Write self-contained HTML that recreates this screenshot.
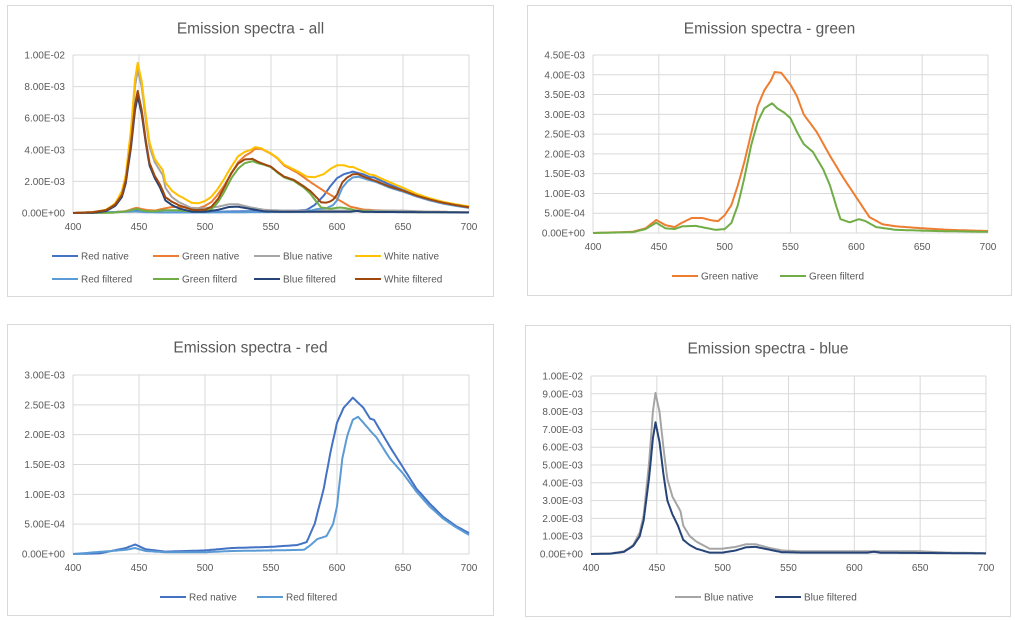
<!DOCTYPE html>
<html><head><meta charset="utf-8"><style>
html,body{margin:0;padding:0;background:#fff;}
svg{display:block;font-family:"Liberation Sans",sans-serif;}
</style></head><body>
<svg id="s" width="1015" height="620" xmlns="http://www.w3.org/2000/svg"></svg>
<script>
const C={rn:"#4472C4",gn:"#ED7D31",bn:"#A5A5A5",wn:"#FFC000",rf:"#5B9BD5",gf:"#70AD47",bf:"#264478",wf:"#9E480E"};
const D={
rn:[[400,0],[420,0.01],[440,0.1],[447,0.16],[455,0.08],[470,0.04],[500,0.06],[520,0.1],[550,0.12],[570,0.15],[577,0.2],[583,0.5],[590,1.1],[595,1.7],[600,2.2],[605,2.45],[612,2.62],[620,2.45],[625,2.27],[628,2.25],[640,1.8],[650,1.45],[660,1.1],[670,0.85],[680,0.63],[690,0.47],[700,0.35]],
rf:[[400,0],[440,0.07],[447,0.1],[455,0.05],[470,0.03],[500,0.03],[520,0.05],[550,0.06],[575,0.07],[580,0.15],[585,0.25],[592,0.3],[597,0.5],[600,0.8],[604,1.6],[608,2.0],[612,2.25],[616,2.3],[620,2.2],[625,2.07],[630,1.95],[640,1.6],[650,1.35],[660,1.05],[670,0.8],[680,0.6],[690,0.45],[700,0.32]],
gn:[[400,0],[430,0.03],[440,0.12],[448,0.33],[455,0.2],[462,0.15],[467,0.25],[475,0.38],[483,0.38],[490,0.32],[495,0.3],[500,0.45],[505,0.7],[510,1.2],[515,1.8],[520,2.5],[525,3.2],[530,3.6],[535,3.85],[538,4.07],[543,4.05],[550,3.75],[555,3.45],[560,3.0],[570,2.55],[580,1.95],[590,1.4],[600,0.9],[610,0.4],[620,0.22],[630,0.17],[650,0.12],[670,0.08],[700,0.05]],
gf:[[400,0],[430,0.02],[440,0.1],[448,0.26],[455,0.12],[462,0.1],[468,0.17],[478,0.18],[487,0.12],[493,0.08],[500,0.1],[505,0.25],[510,0.7],[515,1.4],[520,2.2],[525,2.8],[530,3.15],[536,3.28],[540,3.15],[545,3.05],[550,2.9],[555,2.55],[560,2.25],[567,2.05],[575,1.6],[580,1.2],[585,0.65],[588,0.35],[595,0.27],[602,0.35],[607,0.3],[615,0.15],[630,0.08],[660,0.05],[700,0.03]],
bn:[[400,0],[415,0.03],[425,0.15],[432,0.5],[437,1.2],[440,2.2],[444,5.0],[447,8.0],[449,9.05],[452,8.0],[455,6.0],[458,4.2],[462,3.2],[465,2.8],[468,2.4],[470,1.6],[475,1.0],[480,0.7],[490,0.3],[500,0.3],[510,0.4],[518,0.55],[525,0.55],[535,0.35],[545,0.2],[560,0.15],[650,0.15],[670,0.08],[700,0.05]],
bf:[[400,0],[415,0.02],[425,0.12],[432,0.45],[437,1.0],[440,1.9],[444,4.2],[447,6.5],[449,7.4],[452,6.3],[455,4.5],[458,3.0],[462,2.2],[466,1.6],[470,0.8],[475,0.5],[480,0.3],[490,0.08],[500,0.08],[510,0.2],[518,0.38],[525,0.4],[535,0.25],[545,0.1],[560,0.08],[610,0.08],[615,0.13],[620,0.07],[670,0.05],[700,0.03]]
};
function f(k,x){const p=D[k];for(let i=1;i<p.length;i++){if(x<=p[i][0]){const a=p[i-1],b=p[i];return a[1]+(b[1]-a[1])*(x-a[0])/(b[0]-a[0]);}}return p[p.length-1][1];}
D.wn=[];D.wf=[];for(let x=400;x<=700;x+=1){const m=x>500?0.93:(x>470?1-(x-470)/30*0.07:1);D.wn.push([x,(f('rn',x)+f('gn',x)+f('bn',x))*m]);D.wf.push([x,(f('rf',x)+f('gf',x)+f('bf',x))*(x>500?0.96:1)]);}
let h='';
function chart(o){
 h+=`<rect x="${o.bx}" y="${o.by}" width="${o.bw}" height="${o.bh}" fill="#fff" stroke="#d9d9d9"/>`;
 h+=`<text x="${o.bx+o.bw/2}" y="${o.by+28}" font-size="15.5" fill="#595959" text-anchor="middle">${o.title}</text>`;
 const X=x=>o.x0+(x-400)/300*(o.x1-o.x0), Y=v=>o.y1-v/o.max*(o.y1-o.y0);
 for(let i=0;i<=o.n;i++){const v=o.max*i/o.n,y=Y(v);h+=`<line x1="${o.x0}" x2="${o.x1}" y1="${y}" y2="${y}" stroke="#d9d9d9"/>`;
  h+=`<text x="${o.x0-8}" y="${y+3.5}" font-size="10" fill="#595959" text-anchor="end">${o.lab[i]}</text>`;}
 for(let x=400;x<=700;x+=50){h+=`<line x1="${X(x)}" x2="${X(x)}" y1="${o.y0}" y2="${o.y1}" stroke="#d9d9d9"/>`;
  h+=`<text x="${X(x)}" y="${o.y1+17}" font-size="10" fill="#595959" text-anchor="middle">${x}</text>`;}
 for(const k of o.s){let d='';for(let x=400;x<=700;x+=1){d+=(x==400?'M':'L')+X(x).toFixed(1)+','+Y(f(k,x)*o.sc).toFixed(1);}
  h+=`<path d="${d}" fill="none" stroke="${C[k]}" stroke-width="2" stroke-linejoin="round"/>`;}
 for(const L of o.leg){h+=`<line x1="${L[0]}" x2="${L[0]+26}" y1="${L[1]}" y2="${L[1]}" stroke="${C[L[2]]}" stroke-width="2"/>`;
  h+=`<text x="${L[0]+29}" y="${L[1]+3.5}" font-size="10" fill="#595959">${L[3]}</text>`;}
}
const e2=["0.00E+00","2.00E-03","4.00E-03","6.00E-03","8.00E-03","1.00E-02"];
chart({bx:7.5,by:5.5,bw:486,bh:291,title:"Emission spectra - all",x0:73,x1:469,y0:55,y1:213,max:10,n:5,sc:1,lab:e2,
 s:['rn','gn','bn','wn','rf','gf','bf','wf'],
 leg:[[52,256,'rn','Red native'],[153,256,'gn','Green native'],[254,256,'bn','Blue native'],[355,256,'wn','White native'],
      [52,279,'rf','Red filtered'],[153,279,'gf','Green filterd'],[254,279,'bf','Blue filtered'],[355,279,'wf','White filtered']]});
const gl=["0.00E+00","5.00E-04","1.00E-03","1.50E-03","2.00E-03","2.50E-03","3.00E-03","3.50E-03","4.00E-03","4.50E-03"];
chart({bx:527.5,by:5.5,bw:484,bh:290,title:"Emission spectra - green",x0:593,x1:988,y0:55,y1:233,max:4.5,n:9,sc:1,lab:gl,
 s:['gn','gf'],leg:[[672,276,'gn','Green native'],[780,276,'gf','Green filterd']]});
const rl=["0.00E+00","5.00E-04","1.00E-03","1.50E-03","2.00E-03","2.50E-03","3.00E-03"];
chart({bx:7.5,by:324.5,bw:486,bh:291,title:"Emission spectra - red",x0:73,x1:469,y0:375,y1:554,max:3,n:6,sc:1,lab:rl,
 s:['rn','rf'],leg:[[160,597,'rn','Red native'],[257,597,'rf','Red filtered']]});
const bl=[];for(let i=0;i<=10;i++)bl.push(i==0?"0.00E+00":i==10?"1.00E-02":i+".00E-03");
chart({bx:525.5,by:325.5,bw:485,bh:291,title:"Emission spectra - blue",x0:591,x1:986,y0:376,y1:554,max:10,n:10,sc:1,lab:bl,
 s:['bn','bf'],leg:[[675,597,'bn','Blue native'],[775,597,'bf','Blue filtered']]});
document.getElementById('s').innerHTML=h;
</script>
</body></html>
